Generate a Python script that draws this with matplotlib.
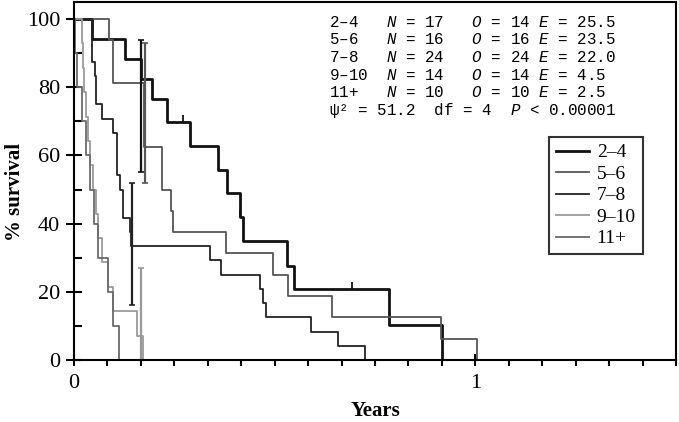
import matplotlib
matplotlib.use("Agg")
import matplotlib.pyplot as plt

# survival curves (years, % survival), step after each time
t_24 = [0, 0.0455, 0.127, 0.166, 0.194, 0.232, 0.288, 0.358, 0.380, 0.413, 0.420, 0.530, 0.548, 0.786, 0.916]
s_24 = [100, 94.1, 88.2, 82.4, 76.5, 69.8, 62.8, 55.7, 48.9, 41.9, 34.9, 27.6, 20.8, 10.3, 0]
c_24_t = [0.271, 0.413, 0.692]
c_24_s = [69.8, 41.9, 20.8]

t_56 = [0, 0.087, 0.097, 0.175, 0.219, 0.241, 0.246, 0.378, 0.495, 0.532, 0.642, 0.915, 1.005]
s_56 = [100, 93.75, 81.25, 62.5, 50, 43.75, 37.5, 31.25, 25, 18.75, 12.5, 6.25, 0]

t_78 = [0, 0.0455, 0.052, 0.056, 0.071, 0.098, 0.106, 0.114, 0.121, 0.139, 0.143, 0.338, 0.367, 0.463, 0.470, 0.478, 0.591, 0.657, 0.726]
s_78 = [100, 87.5, 83.3, 75, 70.8, 66.7, 54.2, 50, 41.7, 37.5, 33.3, 29.2, 25, 20.8, 16.7, 12.5, 8.3, 4.2, 0]

t_910 = [0, 0.02, 0.022, 0.025, 0.030, 0.035, 0.040, 0.048, 0.055, 0.060, 0.070, 0.085, 0.097, 0.157, 0.172]
s_910 = [100, 92.9, 85.7, 78.6, 71.4, 64.3, 57.1, 50, 42.9, 35.7, 28.6, 21.4, 14.3, 7.1, 0]

t_11 = [0, 0.003, 0.008, 0.020, 0.030, 0.040, 0.050, 0.060, 0.085, 0.097, 0.112]
s_11 = [100, 90, 80, 70, 60, 50, 40, 30, 20, 10, 0]

# confidence bars (time, low, high)
bar_t = [0.144, 0.167, 0.177, 0.168]
bar_lo = [16, 55, 52, 0]
bar_hi = [52, 94, 93, 27]
bar_col = ['#222222', '#111111', '#555555', '#999999']

labels = ['2–4', '5–6', '7–8', '9–10', '11+']
stats = [
    '2–4   $N$ = 17   $O$ = 14 $E$ = 25.5',
    '5–6   $N$ = 16   $O$ = 16 $E$ = 23.5',
    '7–8   $N$ = 24   $O$ = 24 $E$ = 22.0',
    '9–10  $N$ = 14   $O$ = 14 $E$ = 4.5',
    '11+   $N$ = 10   $O$ = 10 $E$ = 2.5',
    'ψ² = 51.2  df = 4  $P$ < 0.00001',
]

plt.rcParams['mathtext.fontset'] = 'custom'
plt.rcParams['mathtext.it'] = 'Liberation Mono:italic'
plt.rcParams['mathtext.rm'] = 'Liberation Mono'

fig = plt.figure(figsize=(6.79, 4.22), dpi=100)
ax = fig.add_axes([74 / 679, 1 - 360 / 422, 602 / 679, 358 / 422])

series = [(t_24, s_24, '#111111', 2.0), (t_56, s_56, '#555555', 1.3),
          (t_78, s_78, '#222222', 1.3), (t_910, s_910, '#9a9a9a', 1.3),
          (t_11, s_11, '#6a6a6a', 1.3)]
for (t, s, col, lw), lab in zip(series, labels):
    ax.plot(t, s, drawstyle='steps-post', color=col, lw=lw, label=lab)

# censored cases: small ticks above the line
ax.plot(c_24_t, c_24_s, linestyle='none', marker=2, color='#111111', ms=5, mew=1.3)
for x, lo, hi, col in zip(bar_t, bar_lo, bar_hi, bar_col):
    ax.errorbar(x, (lo + hi) / 2, yerr=(hi - lo) / 2, fmt='none', ecolor=col,
                elinewidth=1.6, capsize=2, capthick=1.2)

ax.set_xlim(0, 1.5)
ax.set_ylim(0, 105)
ax.set_xticks([0, 1])
ax.set_xticks([i / 12 for i in range(19)], minor=True)
ax.set_yticks([0, 20, 40, 60, 80, 100])
ax.set_yticks([10, 30, 50, 70, 90], minor=True)
for sp in ax.spines.values():
    sp.set_linewidth(1.5)
ax.tick_params(axis='y', which='major', direction='inout', length=12, width=1.5, pad=4)
ax.tick_params(axis='y', which='minor', direction='in', length=6, width=1.5)
ax.tick_params(axis='x', which='major', direction='inout', length=8, width=1.5, pad=6)
ax.tick_params(axis='x', which='minor', direction='out', length=4, width=1.5)
for lb in ax.get_xticklabels() + ax.get_yticklabels():
    lb.set_fontfamily('Liberation Serif')
    lb.set_fontsize(16)

ax.set_xlabel('Years', family='Liberation Serif', fontsize=15, fontweight='bold', labelpad=6)
ax.set_ylabel('% survival', family='Liberation Serif', fontsize=15, fontweight='bold')
ax.yaxis.set_label_coords(-0.082, 0.47)

leg = ax.legend(loc='upper left', bbox_to_anchor=((549 - 74) / 602, (360 - 137) / 358),
                borderaxespad=0, frameon=True, fancybox=False, handlelength=1.7,
                prop={'family': 'Liberation Serif', 'size': 14}, labelspacing=0.2,
                handletextpad=0.4, borderpad=0.35)
leg.get_frame().set_edgecolor('black')
leg.get_frame().set_linewidth(1.5)

row_y = [22.7, 40, 57.3, 75, 92.7, 110]
for txt, py in zip(stats, row_y):
    fig.text(329 / 679, 1 - py / 422, txt, family='Liberation Mono', fontsize=11.4, va='center', ha='left')

fig.savefig('out.png', dpi=100)
